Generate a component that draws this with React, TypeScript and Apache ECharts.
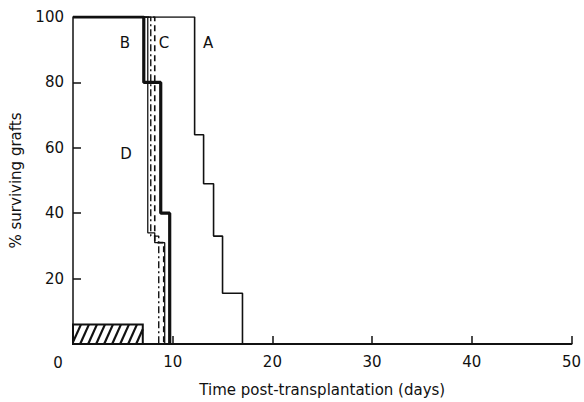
import React, { useEffect, useRef } from "react";
import * as echarts from "echarts";

// Survival curves: event times (days) and % surviving after each step
const aTimes = [0, 12.2, 13.1, 14.1, 15.0, 17.0];
const aValues = [100, 64, 49, 33, 15.5, 0];
const bTimes = [0, 7.1, 8.8, 9.7];
const bValues = [100, 80, 40, 0];
const thinTimes = [0, 7.5, 8.2, 9.2];
const thinValues = [100, 34, 31, 0];
const cTimes = [0, 8.2, 9.1];
const cValues = [100, 31, 0];
const dTimes = [0, 7.8, 8.6];
const dValues = [100, 33, 0];

// Hatched bar (treatment period)
const hatchStart = 0;
const hatchEnd = 7;
const hatchHeight = 6;

const xTicks = [0, 10, 20, 30, 40, 50];
const yTicks = [0, 20, 40, 60, 80, 100];

const curveLabels = [
  { text: "A", x: 208, y: 43 },
  { text: "B", x: 125, y: 43 },
  { text: "C", x: 164, y: 43 },
  { text: "D", x: 126, y: 154 },
];

const FONT = "DejaVu Sans";
const INK = "#111";

function pairs(t: number[], v: number[]) {
  return t.map((x, i) => [x, v[i]]);
}

export default function App() {
  const ref = useRef<HTMLDivElement>(null);
  useEffect(() => {
    if (!ref.current) return;
    const chart = echarts.init(ref.current, undefined, { renderer: "svg" });
    const stepSeries = (name: string, data: number[][], width: number, type: any) => ({
      name,
      type: "line",
      step: "end",
      data,
      symbol: "none",
      lineStyle: { color: INK, width, type },
      z: 3,
    });
    chart.setOption({
      animation: false,
      backgroundColor: "#fff",
      grid: { left: 72, right: 10, top: 17, bottom: 54 },
      xAxis: {
        type: "value",
        min: xTicks[0],
        max: xTicks[xTicks.length - 1],
        interval: 10,
        name: "Time post-transplantation (days)",
        nameLocation: "middle",
        nameGap: 38,
        nameMoveOverlap: false,
        nameTextStyle: { fontFamily: FONT, fontSize: 15, color: INK },
        axisLine: { lineStyle: { color: INK, width: 2 } },
        axisTick: { inside: true, length: 8, lineStyle: { color: INK, width: 1.5 } },
        axisLabel: {
          fontFamily: FONT,
          fontSize: 15,
          color: INK,
          margin: 10,
          formatter: (v: number) => (v === 0 ? "" : String(v)),
        },
        splitLine: { show: false },
      },
      yAxis: {
        type: "value",
        min: yTicks[0],
        max: yTicks[yTicks.length - 1],
        interval: 20,
        name: "% surviving grafts",
        nameLocation: "middle",
        nameGap: 50,
        nameMoveOverlap: false,
        nameTextStyle: { fontFamily: FONT, fontSize: 15, color: INK },
        axisLine: { show: true, lineStyle: { color: INK, width: 1.5 } },
        axisTick: { show: true, inside: true, length: 8, lineStyle: { color: INK, width: 1.5 } },
        axisLabel: {
          fontFamily: FONT,
          fontSize: 15,
          color: INK,
          margin: 9,
          formatter: (v: number) => (v === 0 ? "" : String(v)),
        },
        splitLine: { show: false },
      },
      graphic: [
        ...curveLabels.map((l) => ({
          type: "text",
          x: l.x,
          y: l.y,
          style: {
            text: l.text,
            fontFamily: FONT,
            fontSize: 15,
            fill: INK,
            align: "center",
            verticalAlign: "middle",
          },
        })),
        {
          type: "text",
          x: 58,
          y: 363,
          style: {
            text: String(xTicks[0]),
            fontFamily: FONT,
            fontSize: 15,
            fill: INK,
            align: "center",
            verticalAlign: "middle",
          },
        },
      ],
      series: [
        {
          type: "custom",
          data: [[hatchStart, hatchEnd, hatchHeight]],
          z: 2,
          renderItem: (params: any, api: any) => {
            const p0 = api.coord([api.value(0), 0]);
            const p1 = api.coord([api.value(1), api.value(2)]);
            const x0 = p0[0];
            const x1 = p1[0];
            const yb = p0[1];
            const yt = p1[1];
            const h = yb - yt;
            const slant = h * 0.45;
            const gap = 8;
            const children: any[] = [
              {
                type: "rect",
                shape: { x: x0, y: yt, width: x1 - x0, height: h },
                style: { fill: "#fff", stroke: INK, lineWidth: 2 },
              },
            ];
            for (let xs = x0 - slant; xs < x1; xs += gap) {
              let ax = xs, ay = yb, bx = xs + slant, by = yt;
              if (ax < x0) {
                const t = (x0 - ax) / slant;
                ax = x0;
                ay = yb - t * h;
              }
              if (bx > x1) {
                const t = (bx - x1) / slant;
                bx = x1;
                by = yt + t * h;
              }
              if (bx <= ax) continue;
              children.push({
                type: "line",
                shape: { x1: ax, y1: ay, x2: bx, y2: by },
                style: { stroke: INK, lineWidth: 2.2 },
              });
            }
            return { type: "group", children };
          },
        },
        stepSeries("A", pairs(aTimes, aValues), 1.6, "solid"),
        stepSeries("B", pairs(bTimes, bValues), 3.2, "solid"),
        stepSeries("thin", pairs(thinTimes, thinValues), 1.3, "solid"),
        stepSeries("C", pairs(cTimes, cValues), 1.6, [6, 4]),
        stepSeries("D", pairs(dTimes, dValues), 1.4, [7, 3, 2, 3]),
      ],
    });
    return () => chart.dispose();
  }, []);
  return (
    <div
      ref={ref}
      style={{ position: "fixed", left: 0, top: 0, width: 584, height: 402, background: "#fff" }}
    />
  );
}
